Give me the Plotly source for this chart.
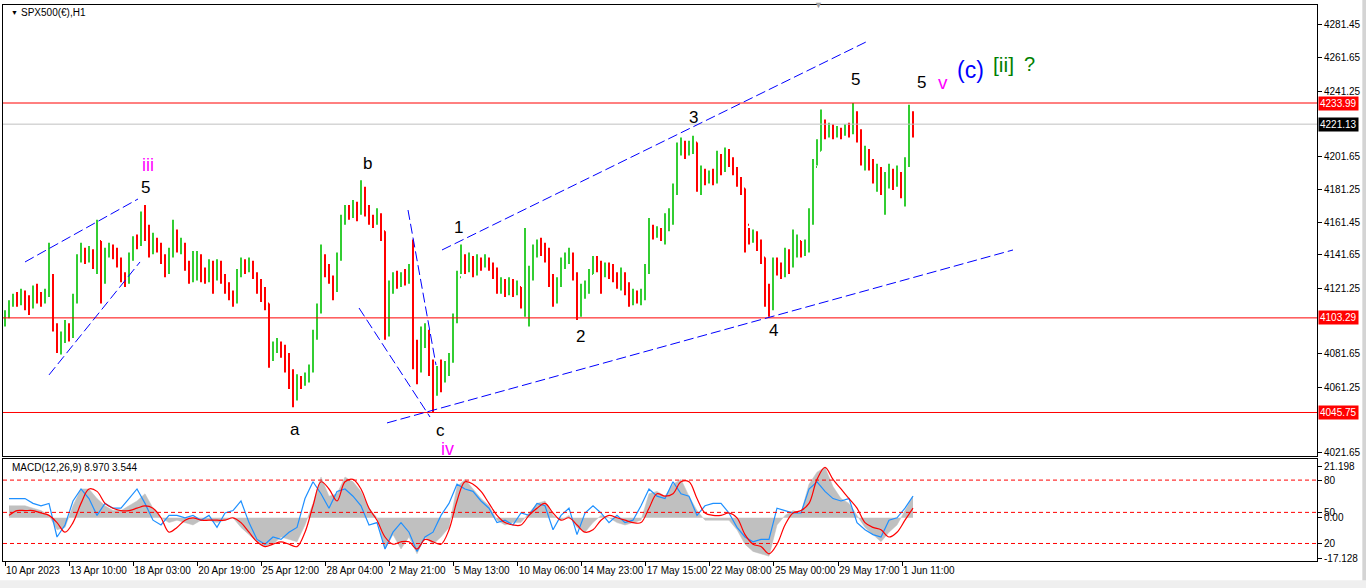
import plotly.graph_objects as go

# ---------------- data ----------------
closes = [4104,4112,4115,4113,4118,4114,4110,4119,4116,4114,4118,4123,4098,4086,4090,4096,4092,4115,4138,4145,
          4140,4143,4139,4150,4125,4142,4146,4143,4138,4128,4126,4140,4150,4149,4162,4158,4143,4150,4147,4140,
          4131,4142,4155,4146,4148,4136,4127,4137,4141,4130,4128,4134,4130,4136,4128,4122,4117,4113,4130,4136,
          4134,4137,4130,4124,4119,4112,4080,4085,4088,4082,4078,4068,4055,4066,4063,4067,4072,4092,4108,4138,
          4132,4128,4122,4140,4162,4168,4166,4170,4167,4180,4170,4164,4162,4166,4156,4095,4122,4128,4124,4127,
          4126,4130,4080,4072,4090,4095,4075,4060,4068,4066,4072,4078,4102,4128,4140,4134,4138,4133,4138,4136,
          4139,4135,4132,4122,4124,4120,4125,4120,4122,4112,4120,4128,4144,4148,4145,4144,4126,4118,4124,4136,
          4140,4142,4130,4115,4120,4122,4130,4138,4136,4131,4134,4132,4128,4124,4130,4122,4114,4117,4115,4118,
          4132,4158,4154,4156,4152,4160,4164,4180,4205,4209,4204,4207,4210,4186,4192,4188,4190,4189,4200,4196,
          4203,4199,4194,4186,4182,4160,4152,4155,4148,4140,4120,4110,4135,4133,4131,4140,4138,4148,4150,4143,
          4145,4165,4195,4205,4222,4216,4219,4215,4217,4215,4218,4216,4228,4215,4200,4204,4197,4190,4193,4184,
          4186,4192,4186,4190,4184,4198,4225,4221]
highs = [4108,4114,4118,4119,4121,4120,4117,4123,4124,4119,4121,4149,4130,4100,4095,4102,4100,4118,4142,4149,
         4146,4147,4145,4163,4150,4146,4149,4148,4146,4140,4131,4143,4153,4154,4168,4172,4160,4155,4152,4149,
         4142,4146,4163,4157,4152,4149,4138,4144,4144,4142,4134,4139,4138,4139,4138,4130,4125,4120,4133,4140,
         4139,4140,4138,4131,4127,4122,4112,4089,4091,4089,4087,4082,4072,4069,4068,4070,4075,4096,4112,4148,
         4142,4136,4129,4143,4166,4172,4172,4175,4174,4187,4183,4172,4166,4170,4167,4156,4126,4131,4132,4131,
         4133,4136,4151,4090,4098,4100,4096,4078,4074,4078,4077,4082,4106,4132,4148,4142,4143,4141,4142,4140,
         4142,4140,4137,4134,4128,4127,4128,4127,4126,4122,4158,4135,4148,4151,4152,4149,4146,4130,4128,4140,
         4143,4146,4143,4131,4124,4126,4133,4141,4141,4138,4137,4137,4136,4131,4134,4131,4125,4121,4120,4121,
         4136,4164,4160,4159,4158,4167,4170,4185,4210,4213,4211,4211,4214,4210,4196,4194,4193,4194,4205,4203,
         4207,4206,4201,4195,4189,4182,4158,4157,4156,4151,4140,4124,4140,4140,4137,4146,4145,4157,4154,4150,
         4151,4170,4200,4212,4230,4224,4222,4221,4220,4219,4221,4222,4234,4229,4218,4208,4206,4200,4197,4195,
         4192,4197,4194,4196,4192,4201,4233,4229]
lows = [4098,4103,4110,4110,4111,4108,4105,4109,4112,4110,4112,4116,4095,4082,4081,4088,4089,4091,4112,4137,
        4136,4137,4133,4130,4112,4124,4140,4139,4134,4125,4122,4124,4138,4145,4147,4150,4140,4142,4143,4136,
        4128,4130,4140,4143,4142,4132,4124,4125,4126,4125,4124,4125,4118,4126,4124,4118,4114,4110,4112,4128,
        4130,4131,4127,4118,4113,4108,4073,4077,4082,4079,4070,4060,4049,4053,4060,4062,4064,4070,4090,4106,
        4128,4124,4114,4119,4138,4160,4163,4164,4162,4166,4165,4160,4158,4160,4150,4090,4092,4118,4121,4122,
        4123,4124,4072,4063,4070,4085,4068,4046,4056,4058,4064,4068,4076,4100,4130,4130,4131,4128,4129,4132,
        4134,4132,4127,4118,4118,4116,4117,4116,4117,4109,4104,4098,4126,4140,4141,4137,4122,4110,4112,4122,
        4133,4136,4126,4102,4104,4115,4118,4130,4131,4118,4128,4127,4125,4121,4120,4117,4110,4111,4112,4111,
        4114,4130,4151,4152,4150,4148,4156,4160,4178,4202,4200,4202,4203,4180,4178,4184,4185,4184,4185,4190,
        4192,4195,4190,4183,4178,4143,4148,4149,4144,4136,4110,4104,4108,4129,4127,4128,4130,4134,4140,4140,
        4141,4143,4160,4196,4205,4212,4213,4212,4213,4212,4214,4213,4215,4210,4196,4193,4193,4185,4180,4178,
        4166,4182,4181,4183,4176,4171,4195,4213]
first_open = 4100
opens = [first_open] + closes[:-1]
bar_no = list(range(len(closes)))

macd_hist = [5,5,5,4,3,1,-5,-4,5,12,12,8,5,3,3,5,7,10,4,0,
             -2,-1,-2,-3,-1,-1,-2,-1,0,-4,-7,-10,-12,-11,-8,-9,-10,-3,6,17,
             9,10,17,15,11,4,0,-13,-7,-13,-8,-15,-8,-11,-8,-4,13,16,12,8,
             5,-1,-3,-2,-2,2,6,7,1,-1,1,-4,-6,-2,1,0,-2,-3,-2,-1,
             10,11,9,14,16,9,3,-1,-1,-1,-1,-5,-11,-14,-15,-16,-3,1,3,2,
             14,19,21,13,8,6,1,-4,-7,-10,-6,-3,3,9]
macd_signal = [1,3,3,3,2,1,-2,-6,-2,6,12,11,6,4,3,3,4,5,4,0,
               -6,-4,-1,0,-1,-1,-1,-1,0,-2,-6,-10,-12,-11,-10,-11,-12,-6,5,15,
               12,7,15,16,12,4,-1,-8,-11,-10,-10,-13,-9,-10,-11,-5,7,15,14,11,
               6,1,-2,-3,-3,1,4,6,2,-1,0,-3,-6,-5,-1,1,0,-1,-2,-2,
               4,10,9,10,15,15,8,2,1,1,2,0,-7,-11,-12,-15,-11,-3,2,3,
               6,16,21,16,12,8,4,-2,-4,-5,-8,-6,-1,4]
macd_fast = [8,8,8,6,5,6,-8,-3,7,12,8,1,6,4,4,8,12,6,-1,-3,
             1,1,0,1,-1,1,-4,2,3,7,-2,-9,-11,-8,-9,-6,-4,8,15,10,
             4,11,12,9,5,-3,-2,-13,-6,-2,-6,-14,-8,-6,1,6,14,12,11,7,
             4,-2,-1,-3,2,1,6,5,-5,1,4,-7,2,5,2,-2,1,-2,-1,5,
             12,9,8,15,10,9,1,5,6,6,2,-4,-8,-10,-9,-9,4,3,2,2,
             12,15,11,8,7,8,-2,-5,-7,-8,-1,0,4,9]
macd_bar_no = bar_no[1::2]

x_tick_labels = ["10 Apr 2023", "13 Apr 10:00", "18 Apr 03:00", "20 Apr 19:00", "25 Apr 12:00",
                 "28 Apr 04:00", "2 May 21:00", "5 May 13:00", "10 May 06:00", "14 May 23:00",
                 "17 May 15:00", "22 May 08:00", "25 May 00:00", "29 May 17:00", "1 Jun 11:00"]
bars_per_label = 16.02
x_tick_vals = [k * bars_per_label for k in range(len(x_tick_labels))]

price_ticks = [4281.45, 4261.65, 4241.25, 4201.65, 4181.25, 4161.45, 4141.65,
               4121.25, 4081.65, 4061.25, 4021.65]
red_levels = [4233.99, 4103.29, 4045.75]
last_price = 4221.13

macd_level_vals = [21.198, 15.7, 2.25, 0.0, -10.7, -17.128]
macd_level_text = ["21.198", "80", "50", "0.00", "20", "-17.128"]
macd_dash_levels = [15.7, 2.25, -10.7]

# trendlines (bar number, price)
trendlines = [
    ((5.0, 4137.3), (33.25, 4175.6)),
    ((11.0, 4068.6), (33.75, 4137.3)),
    ((88.5, 4109.3), (106.25, 4043.0)),
    ((100.75, 4168.9), (107.75, 4074.6)),
    ((95.5, 4039.4), (252.0, 4144.6)),
    ((109.25, 4144.6), (215.75, 4271.7)),
]

# wave labels: (text, bar, price, color, size)
wave_labels = [
    ("iii", 35.75, 4196.3, "#FF00FF", 18),
    ("5", 35.0, 4182.3, "#000000", 17),
    ("b", 90.5, 4197.5, "#000000", 17),
    ("a", 72.5, 4035.7, "#000000", 17),
    ("c", 108.75, 4035.1, "#000000", 17),
    ("iv", 110.5, 4023.5, "#FF00FF", 18),
    ("1", 113.25, 4158.0, "#000000", 17),
    ("2", 143.75, 4091.7, "#000000", 17),
    ("3", 172.0, 4224.9, "#000000", 17),
    ("4", 192.0, 4095.9, "#000000", 17),
    ("5", 212.5, 4248.0, "#000000", 17),
    ("5", 229.0, 4246.2, "#000000", 17),
    ("v", 234.5, 4246.2, "#FF00FF", 19),
    ("(c)", 241.25, 4254.1, "#0000FF", 23),
    ("[ii]", 249.5, 4257.7, "#008000", 21),
    ("?", 256.0, 4257.7, "#008000", 20),
]

FONT = "Liberation Sans"

fig = go.Figure()
fig.add_trace(go.Ohlc(
    x=bar_no, open=opens, high=highs, low=lows, close=closes,
    increasing=dict(line=dict(color="#32CD32", width=2)),
    decreasing=dict(line=dict(color="#FF0000", width=2)),
    tickwidth=0.25, xaxis="x", yaxis="y", hoverinfo="skip", showlegend=False))

fig.add_trace(go.Scatter(x=macd_bar_no, y=macd_hist, mode="lines", fill="tozeroy",
                         fillcolor="#C0C0C0", line=dict(color="#C0C0C0", width=0.5),
                         xaxis="x2", yaxis="y2", showlegend=False, hoverinfo="skip"))
fig.add_trace(go.Scatter(x=macd_bar_no, y=macd_fast, mode="lines",
                         line=dict(color="#1E90FF", width=1.2),
                         xaxis="x2", yaxis="y2", showlegend=False, hoverinfo="skip"))
fig.add_trace(go.Scatter(x=macd_bar_no, y=macd_signal, mode="lines", line_shape="spline",
                         line=dict(color="#FF0000", width=1.2),
                         xaxis="x2", yaxis="y2", showlegend=False, hoverinfo="skip"))

shapes = []
for lv in red_levels:
    shapes.append(dict(type="line", xref="x domain", yref="y", x0=0, x1=1, y0=lv, y1=lv,
                       line=dict(color="#FF0000", width=1)))
shapes.append(dict(type="line", xref="x domain", yref="y", x0=0, x1=1, y0=last_price, y1=last_price,
                   line=dict(color="#C0C0C0", width=1)))
for (a, b) in trendlines:
    shapes.append(dict(type="line", xref="x", yref="y", x0=a[0], y0=a[1], x1=b[0], y1=b[1],
                       line=dict(color="#0000FF", width=1, dash="10px,4px")))
for lv in macd_dash_levels:
    shapes.append(dict(type="line", xref="x2 domain", yref="y2", x0=0, x1=1, y0=lv, y1=lv,
                       line=dict(color="#FF0000", width=1, dash="4px,3px")))
# window chrome (grey border right / bottom)
shapes.append(dict(type="rect", xref="paper", yref="paper", x0=1.0345, x1=1.05, y0=-0.06, y1=1.02,
                   fillcolor="#D4D4D4", line=dict(width=0), layer="below"))
shapes.append(dict(type="rect", xref="paper", yref="paper", x0=-0.01, x1=1.05, y0=-0.06, y1=-0.0345,
                   fillcolor="#EFEFEF", line=dict(width=0), layer="below"))

annotations = []
for txt, bx, py, col, sz in wave_labels:
    annotations.append(dict(text=txt, x=bx, y=py, xref="x", yref="y", showarrow=False,
                            font=dict(family=FONT, size=sz, color=col)))
for lv in red_levels:
    annotations.append(dict(text=f"{lv:.2f}", x=1, y=lv, xref="paper", yref="y", xanchor="left",
                            xshift=1, showarrow=False, bgcolor="#FF0000", borderpad=1,
                            font=dict(family=FONT, size=10, color="#FFFFFF")))
annotations.append(dict(text=f"{last_price:.2f}", x=1, y=last_price, xref="paper", yref="y",
                        xanchor="left", xshift=1, showarrow=False, bgcolor="#000000", borderpad=1,
                        font=dict(family=FONT, size=10, color="#FFFFFF")))
annotations.append(dict(text="▼", x=0.0045, y=0.986, xref="paper", yref="paper", showarrow=False,
                        xanchor="left", yanchor="middle", font=dict(family=FONT, size=7, color="#000")))
annotations.append(dict(text="SPX500(€),H1", x=0.0125, y=0.986, xref="paper", yref="paper",
                        showarrow=False, xanchor="left", yanchor="middle",
                        font=dict(family=FONT, size=10, color="#000")))
annotations.append(dict(text="MACD(12,26,9) 8.970 3.544", x=0.005, y=0.168, xref="paper", yref="paper",
                        showarrow=False, xanchor="left", yanchor="middle",
                        font=dict(family=FONT, size=10, color="#000")))
annotations.append(dict(text="▼", x=0.6203, y=1.0, xref="paper", yref="paper", showarrow=False,
                        yanchor="middle", font=dict(family=FONT, size=9, color="#A0A0A0")))

x_range = [-0.5, 328.0]
fig.update_layout(
    width=1366, height=588,
    margin=dict(l=3, r=49, t=5, b=27, autoexpand=False),
    paper_bgcolor="#FFFFFF", plot_bgcolor="#FFFFFF",
    font=dict(family=FONT, size=10, color="#000000"),
    showlegend=False,
    xaxis=dict(domain=[0, 1], range=x_range, anchor="y", showticklabels=False, ticks="",
               showgrid=False, zeroline=False, showline=True, linecolor="#000", linewidth=1,
               mirror=True, rangeslider=dict(visible=False), fixedrange=True, automargin=False),
    yaxis=dict(domain=[0.1889, 1], range=[4019.3, 4293.6], side="right", anchor="x",
               tickvals=price_ticks, ticktext=[f"{v:.2f}" for v in price_ticks],
               ticks="outside", ticklen=4, tickcolor="#000", showgrid=False, zeroline=False,
               showline=True, linecolor="#000", linewidth=1, mirror=True, automargin=False,
               tickfont=dict(family=FONT, size=10, color="#000")),
    xaxis2=dict(domain=[0, 1], range=x_range, anchor="y2", matches="x",
                tickvals=x_tick_vals, ticktext=x_tick_labels, ticks="outside", ticklen=4,
                tickcolor="#000", ticklabelposition="outside right", tickangle=0,
                showgrid=False, automargin=False,
                zeroline=False, showline=True, linecolor="#000", linewidth=1, mirror=True,
                tickfont=dict(family=FONT, size=10, color="#000")),
    yaxis2=dict(domain=[0, 0.1835], range=[-18.0, 24.5], side="right", anchor="x2",
                tickvals=macd_level_vals, ticktext=macd_level_text, ticks="outside", ticklen=4,
                tickcolor="#000", showgrid=False, zeroline=False, showline=True, automargin=False,
                linecolor="#000", linewidth=1, mirror=True,
                tickfont=dict(family=FONT, size=10, color="#000")),
    shapes=shapes, annotations=annotations,
)

fig.write_html("out.html", config={"displayModeBar": False},
               post_script="document.body.style.margin='0';document.body.style.overflow='hidden';")
